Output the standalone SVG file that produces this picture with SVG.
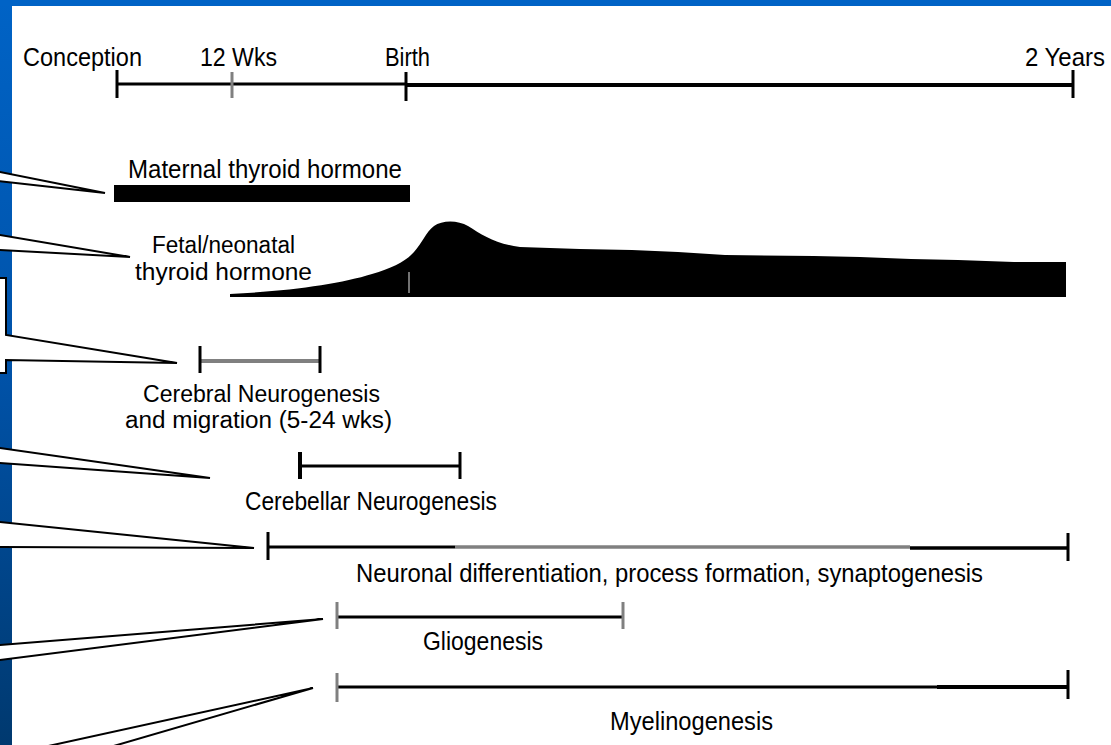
<svg xmlns="http://www.w3.org/2000/svg" width="1111" height="745" viewBox="0 0 1111 745">
<defs>
<linearGradient id="bandGrad" x1="0" y1="0" x2="0" y2="1">
<stop offset="0" stop-color="#0063c6"/>
<stop offset="0.5" stop-color="#0052a8"/>
<stop offset="1" stop-color="#00396f"/>
</linearGradient>
<style>
.t{font-family:"Liberation Sans","Arial",sans-serif;font-size:26px;fill:#000;}
.t2{font-size:23px;}
.bk{stroke:#000;fill:none;}
.gr{stroke:#808080;fill:none;}
.co{fill:#fff;stroke:#000;stroke-width:2;stroke-linejoin:miter;}
</style>
</defs>
<rect width="1111" height="745" fill="#fff"/>
<rect x="0" y="0" width="12" height="745" fill="url(#bandGrad)"/>
<rect x="0" y="0" width="1111" height="6" fill="#0063c6"/>

<g id="connectors">
<polygon class="co" points="-20,168 105,193 -20,179"/>
<polygon class="co" points="-20,231.6 130,257 -20,248.9"/>
<path class="co" d="M -20 278 H 6 V 335 L 177 363 L 6 360 V 373 H -20 Z"/>
<polygon class="co" points="-20,445.1 210,478 -20,461.6"/>
<polygon class="co" points="-20,520 254,548 -20,547"/>
<polygon class="co" points="-20,646.6 323,619 -20,662.5"/>
<polygon class="co" points="-15.5,760 313,688 65.5,760"/>
</g>

<g id="timeline">
<line class="bk" x1="117" y1="84" x2="406" y2="84" stroke-width="3"/>
<line class="bk" x1="406" y1="85" x2="1073" y2="85" stroke-width="4"/>
<line class="bk" x1="117" y1="70" x2="117" y2="98" stroke-width="3"/>
<line class="gr" x1="232" y1="72" x2="232" y2="98" stroke-width="3" stroke="#555"/>
<line class="bk" x1="406" y1="72" x2="406" y2="101" stroke-width="3"/>
<line class="bk" x1="1073" y1="70" x2="1073" y2="98" stroke-width="3"/>
<text class="t" x="23" y="66" textLength="119" lengthAdjust="spacingAndGlyphs">Conception</text>
<text class="t" x="200" y="66" textLength="77" lengthAdjust="spacingAndGlyphs">12 Wks</text>
<text class="t" x="385" y="66" textLength="45" lengthAdjust="spacingAndGlyphs">Birth</text>
<text class="t" x="1025" y="66" textLength="80" lengthAdjust="spacingAndGlyphs">2 Years</text>
</g>

<g id="maternal">
<text class="t" x="128" y="178" textLength="274" lengthAdjust="spacingAndGlyphs">Maternal thyroid hormone</text>
<rect x="114" y="185" width="296" height="17" fill="#000"/>
</g>

<g id="fetal">
<text class="t t2" x="152" y="253" textLength="143" lengthAdjust="spacingAndGlyphs">Fetal/neonatal</text>
<text class="t t2" x="135" y="280" textLength="177" lengthAdjust="spacingAndGlyphs">thyroid hormone</text>
<path fill="#000" d="M230,294 C290,291 340,284 372,274 C392,268 405,262 414,252 C422,243 426,232 434,226 C442,220 458,220 468,226 C482,235 496,244 520,247 L580,249 L632,250 L678,252 L725,255 L814,256 L860,257 L911,259 L958,260 L1014,262 L1066,262 L1066,297 L230,297 Z"/>
<line x1="409" y1="272" x2="409" y2="293" stroke="#999" stroke-width="1.5"/>
</g>

<g id="cerebral">
<line class="gr" x1="200" y1="361" x2="320" y2="361" stroke-width="4"/>
<line class="bk" x1="200" y1="346" x2="200" y2="373" stroke-width="3"/>
<line class="bk" x1="320" y1="346" x2="320" y2="373" stroke-width="3"/>
<text class="t t2" x="143" y="402" textLength="237" lengthAdjust="spacingAndGlyphs">Cerebral Neurogenesis</text>
<text class="t t2" x="125" y="428" textLength="267" lengthAdjust="spacingAndGlyphs">and migration (5-24 wks)</text>
</g>

<g id="cerebellar">
<line class="bk" x1="300" y1="466" x2="460" y2="466" stroke-width="3"/>
<line class="bk" x1="300" y1="452" x2="300" y2="479" stroke-width="4"/>
<line class="bk" x1="460" y1="452" x2="460" y2="479" stroke-width="3" stroke="#333"/>
<text class="t" x="245" y="510" textLength="252" lengthAdjust="spacingAndGlyphs">Cerebellar Neurogenesis</text>
</g>

<g id="neuronal">
<line class="bk" x1="268" y1="547" x2="455" y2="547" stroke-width="3"/>
<line class="gr" x1="455" y1="547" x2="910" y2="547" stroke-width="3.5"/>
<line class="bk" x1="910" y1="548" x2="1068" y2="548" stroke-width="3.5"/>
<line class="bk" x1="268" y1="532" x2="268" y2="560" stroke-width="3"/>
<line class="bk" x1="1068" y1="533" x2="1068" y2="561" stroke-width="3"/>
<text class="t" x="356" y="582" textLength="627" lengthAdjust="spacingAndGlyphs">Neuronal differentiation, process formation, synaptogenesis</text>
</g>

<g id="gliogenesis">
<line class="bk" x1="337" y1="617" x2="623" y2="617" stroke-width="3"/>
<line class="gr" x1="337" y1="602" x2="337" y2="629" stroke-width="3"/>
<line class="gr" x1="623" y1="602" x2="623" y2="629" stroke-width="3"/>
<text class="t" x="423" y="650" textLength="120" lengthAdjust="spacingAndGlyphs">Gliogenesis</text>
</g>

<g id="myelinogenesis">
<line class="bk" x1="337" y1="687" x2="937" y2="687" stroke-width="3"/>
<line class="bk" x1="937" y1="687" x2="1068" y2="687" stroke-width="4"/>
<line class="gr" x1="337" y1="673" x2="337" y2="702" stroke-width="3"/>
<line class="bk" x1="1068" y1="670" x2="1068" y2="699" stroke-width="3"/>
<text class="t" x="610" y="730" textLength="163" lengthAdjust="spacingAndGlyphs">Myelinogenesis</text>
</g>
</svg>
